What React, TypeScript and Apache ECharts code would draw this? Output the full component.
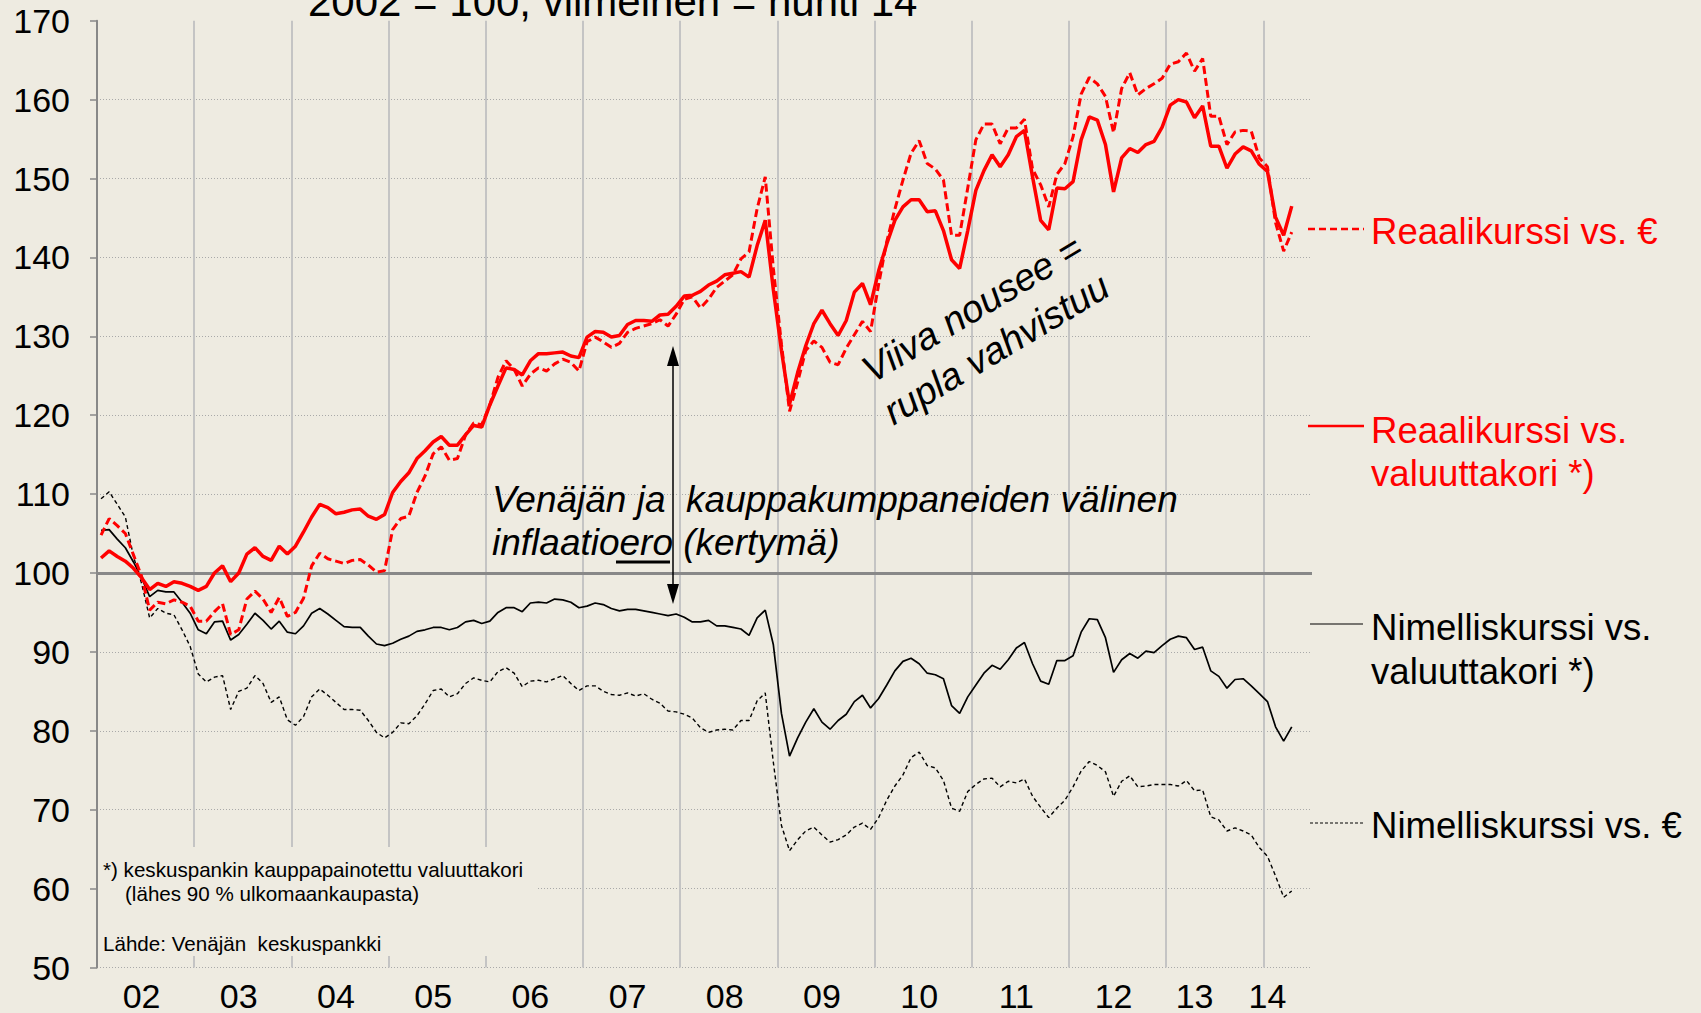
import React, { useEffect, useRef } from "react";
import * as echarts from "echarts";

// ---------- DATA ----------
const startYear = 2002;
const endYear = 2014;
const lastMonthOnAxis = 6; // axis runs to June 2014

const xTickLabels = ["02", "03", "04", "05", "06", "07", "08", "09", "10", "11", "12", "13", "14"];
const xTickMonths = [
  "2002-06", "2003-06", "2004-06", "2005-06", "2006-06", "2007-06", "2008-06",
  "2009-06", "2010-06", "2011-06", "2012-06", "2013-04", "2014-01",
];

// Reaalikurssi vs. valuuttakori (red solid)
const realBasket = [
  101.9, 102.8, 102.1, 101.5, 100.6, 99.4, 97.9, 98.7, 98.3, 98.9, 98.7, 98.3,
  97.8, 98.3, 100.0, 100.9, 98.9, 100.0, 102.4, 103.2, 102.1, 101.6, 103.4, 102.4,
  103.4, 105.2, 107.1, 108.7, 108.3, 107.5, 107.7, 108.0, 108.1, 107.2, 106.8, 107.4,
  110.2, 111.6, 112.7, 114.5, 115.5, 116.6, 117.3, 116.2, 116.2, 117.5, 118.7, 118.5,
  121.3, 123.7, 126.0, 125.8, 125.1, 126.9, 127.8, 127.8, 127.9, 128.0, 127.5, 127.3,
  129.9, 130.6, 130.5, 129.9, 130.1, 131.5, 132.0, 132.0, 131.9, 132.7, 132.8, 133.8,
  135.1, 135.2, 135.7, 136.5, 137.0, 137.8, 138.0, 138.2, 137.5, 141.5, 144.7, 135.9,
  128.2, 121.4, 125.4, 128.8, 131.6, 133.3, 131.6, 130.1, 132.0, 135.6, 136.7, 134.0,
  138.3, 141.7, 144.7, 146.4, 147.3, 147.3, 145.8, 145.9, 143.4, 139.7, 138.6, 143.4,
  148.5, 151.0, 153.0, 151.5, 153.0, 155.3, 156.1, 150.2, 144.7, 143.5, 148.8, 148.7,
  149.6, 154.9, 157.8, 157.4, 154.3, 148.3, 152.6, 153.8, 153.3, 154.3, 154.7, 156.5,
  159.3, 160.0, 159.7, 157.7, 159.2, 154.1, 154.1, 151.3, 153.1, 154.0, 153.5, 151.8,
  150.9, 145.1, 142.8, 146.5,
];

// Reaalikurssi vs. € (red dashed)
const realEur = [
  104.8, 106.9, 106.0, 105.0, 102.3, 99.6, 95.3, 96.3, 96.1, 96.6, 96.3, 95.8,
  93.9, 93.9, 95.1, 96.1, 92.2, 92.8, 96.7, 97.7, 96.7, 95.0, 96.9, 94.5,
  95.0, 96.8, 100.9, 102.5, 101.8, 101.5, 101.2, 101.6, 101.7, 101.0, 100.1, 100.3,
  105.5, 106.9, 107.2, 110.2, 112.3, 115.1, 116.0, 114.3, 114.5, 117.5, 119.0, 118.8,
  121.3, 124.8, 126.9, 125.8, 123.7, 125.2, 126.0, 125.6, 126.5, 127.1, 126.7, 125.6,
  129.3, 129.9, 129.3, 128.6, 129.1, 130.5, 131.0, 131.3, 131.6, 132.1, 131.3, 132.8,
  134.7, 135.0, 133.6, 134.7, 136.2, 137.0, 137.8, 139.8, 140.7, 146.2, 150.2, 138.6,
  129.0, 120.5, 124.2, 128.2, 129.4, 128.6, 126.7, 126.4, 128.5, 130.2, 131.9, 130.6,
  136.6, 142.0, 146.1, 149.8, 153.2, 154.8, 151.9, 151.2, 149.8, 142.8, 142.8, 148.8,
  154.9, 156.9, 156.9, 154.4, 156.4, 156.4, 157.5, 151.2, 149.2, 146.4, 150.5, 151.9,
  155.3, 160.7, 162.8, 162.0, 160.4, 155.8, 161.4, 163.4, 160.6, 161.4, 162.0, 162.7,
  164.5, 164.8, 165.9, 163.6, 165.2, 157.9, 157.9, 154.3, 155.9, 156.1, 156.0, 152.6,
  151.5, 144.4, 140.8, 143.2,
];

// Nimelliskurssi vs. valuuttakori (black solid)
const nomBasket = [
  105.4, 105.5, 104.3, 103.2, 101.4, 99.4, 97.0, 97.8, 97.6, 97.6, 96.3, 94.9,
  92.8, 92.3, 93.8, 93.9, 91.5, 92.2, 93.5, 94.9, 94.0, 92.9, 93.9, 92.5,
  92.3, 93.3, 94.9, 95.5, 94.8, 94.0, 93.2, 93.1, 93.1, 92.0, 91.0, 90.8,
  91.1, 91.6, 92.0, 92.6, 92.8, 93.1, 93.1, 92.8, 93.1, 93.8, 94.0, 93.6,
  93.9, 95.0, 95.6, 95.6, 95.1, 96.2, 96.3, 96.2, 96.7, 96.6, 96.3, 95.6,
  95.8, 96.2, 96.0, 95.5, 95.2, 95.4, 95.4, 95.2, 95.0, 94.8, 94.6, 94.8,
  94.4, 93.8, 93.8, 94.0, 93.3, 93.3, 93.1, 92.9, 92.1, 94.3, 95.3, 90.9,
  82.2, 76.8, 79.1, 81.1, 82.8, 81.1, 80.2, 81.3, 82.1, 83.7, 84.5, 82.9,
  84.1, 85.8, 87.6, 88.8, 89.2, 88.5, 87.3, 87.1, 86.6, 83.2, 82.2, 84.3,
  85.8, 87.3, 88.3, 87.8, 89.0, 90.5, 91.2, 88.5, 86.3, 85.9, 88.9, 88.9,
  89.5, 92.5, 94.2, 94.1, 91.8, 87.4, 89.0, 89.8, 89.2, 90.1, 89.9, 90.8,
  91.6, 92.0, 91.8, 90.3, 90.6, 87.6, 86.9, 85.4, 86.5, 86.6, 85.7, 84.7,
  83.7, 80.5, 78.7, 80.5,
];

// Nimelliskurssi vs. € (black dashed)
const nomEur = [
  109.4, 110.3, 108.7, 107.1, 102.1, 98.7, 94.3, 95.5, 94.9, 94.7, 92.8, 90.7,
  87.2, 86.2, 86.8, 87.0, 82.7, 85.0, 85.4, 87.0, 86.0, 83.6, 84.3, 81.4,
  80.7, 81.8, 84.3, 85.3, 84.5, 83.6, 82.7, 82.7, 82.6, 81.3, 79.8, 79.1,
  79.8, 81.0, 80.9, 81.9, 83.4, 85.1, 85.3, 84.3, 84.7, 86.0, 86.7, 86.4,
  86.2, 87.5, 88.0, 87.3, 85.6, 86.3, 86.4, 86.2, 86.6, 87.0, 86.0, 85.1,
  85.7, 85.7, 85.0, 84.6, 84.5, 84.8, 84.4, 84.7, 84.0, 83.5, 82.5, 82.4,
  82.1, 81.6, 80.4, 79.8, 80.1, 80.2, 80.1, 81.3, 81.3, 83.8, 84.8, 76.0,
  68.0, 64.8, 66.2, 67.3, 67.8, 66.8, 65.9, 66.2, 66.8, 67.8, 68.3, 67.5,
  69.0, 71.2, 73.0, 74.4, 76.6, 77.3, 75.6, 75.3, 73.7, 70.2, 69.8, 72.3,
  73.2, 73.9, 74.0, 72.9, 73.6, 73.4, 73.9, 71.7, 70.3, 69.0, 70.2, 71.2,
  72.9, 74.9, 76.1, 75.6, 74.8, 71.7, 73.6, 74.3, 72.9, 73.0, 73.2, 73.2,
  73.2, 73.0, 73.7, 72.4, 72.5, 69.1, 68.7, 67.3, 67.7, 67.3, 66.8, 65.2,
  64.1, 61.6, 58.9, 59.7,
];

const yMin = 50;
const yMax = 170;
const yStep = 10;
const baseLevel = 100;

// ---------- helpers ----------
const months: string[] = [];
for (let y = startYear; y <= endYear; y++) {
  for (let m = 1; m <= 12; m++) {
    if (y === endYear && m > lastMonthOnAxis) break;
    months.push(`${y}-${String(m).padStart(2, "0")}`);
  }
}
const tickMap: Record<string, string> = {};
xTickMonths.forEach((mo, i) => (tickMap[mo] = xTickLabels[i]));

const BG = "#eeebe1";
const FONT = '"Liberation Sans", Arial, Helvetica, sans-serif';
const RED = "#ff0000";

function txt(x: number, y: number, text: string, size: number, color = "#000", italic = false, align = "left", extra: any = {}) {
  const font = `${italic ? "italic " : ""}${size}px ${FONT}`;
  return {
    type: "text",
    x,
    y,
    z: 20,
    silent: true,
    style: {
      text,
      font,
      fill: color,
      align,
      verticalAlign: "middle",
      textAlign: align,
      textVerticalAlign: "middle",
    },
    ...extra,
  };
}

export default function App() {
  const ref = useRef<HTMLDivElement>(null);

  useEffect(() => {
    if (!ref.current) return;
    const chart = echarts.init(ref.current, null, { renderer: "svg" });

    const nLines = (yMax - yMin) / yStep + 1;
    const splitColors = Array.from({ length: nLines }, (_, i) => (i === nLines - 1 ? "rgba(0,0,0,0)" : "#a9a9a9"));

    const rot = (31 * Math.PI) / 180;
    const nCats = months.length;

    const option: any = {
      animation: false,
      backgroundColor: BG,
      grid: { left: 97, right: 389, top: 20.7, bottom: 45.5, containLabel: false },
      xAxis: {
        type: "category",
        data: months,
        boundaryGap: true,
        axisLine: { show: false },
        axisTick: { show: false },
        axisLabel: {
          interval: 0,
          margin: 11,
          fontSize: 34,
          fontFamily: FONT,
          color: "#000",
          formatter: (v: string) => tickMap[v] || "",
        },
        splitLine: {
          show: true,
          showMaxLine: false,
          interval: (index: number) => index % 12 === 0 && index > 0 && index < nCats - 1,
          lineStyle: { color: "#c4c4c4", width: 2 },
        },
      },
      yAxis: {
        type: "value",
        min: yMin,
        max: yMax,
        interval: yStep,
        axisLine: { show: true, lineStyle: { color: "#888888", width: 2 } },
        axisTick: { show: true, inside: false, length: 7, lineStyle: { color: "#888888", width: 1.5 } },
        axisLabel: { margin: 27, fontSize: 34, fontFamily: FONT, color: "#000" },
        splitLine: { show: true, lineStyle: { color: splitColors, width: 1, type: [1, 2] } },
      },
      series: [
        {
          name: "Nimelliskurssi vs. €",
          type: "line",
          data: nomEur,
          symbol: "none",
          lineStyle: { color: "#000", width: 1.4, type: [4, 3] },
          z: 3,
        },
        {
          name: "Nimelliskurssi vs. valuuttakori *)",
          type: "line",
          data: nomBasket,
          symbol: "none",
          lineStyle: { color: "#000", width: 1.7 },
          z: 4,
          markLine: {
            silent: true,
            symbol: "none",
            label: { show: false },
            lineStyle: { color: "#888888", width: 3, type: "solid" },
            data: [{ yAxis: baseLevel }],
          },
        },
        {
          name: "Reaalikurssi vs. valuuttakori *)",
          type: "line",
          data: realBasket,
          symbol: "none",
          lineStyle: { color: RED, width: 3.5 },
          z: 5,
        },
        {
          name: "Reaalikurssi vs. €",
          type: "line",
          data: realEur,
          symbol: "none",
          lineStyle: { color: RED, width: 3, type: [8, 4] },
          z: 6,
        },
      ],
      graphic: [
        // title (partly cut off at the top, as in the source)
        txt(308, 1.5, "2002 = 100, viimeinen = huhti 14", 42),
        // footnote box
        {
          type: "rect",
          z: 15,
          silent: true,
          shape: { x: 99, y: 847, width: 439, height: 109 },
          style: { fill: BG },
        },
        txt(103, 869, "*) keskuspankin kauppapainotettu valuuttakori", 20.6),
        txt(125, 893, "(lähes 90 % ulkomaankaupasta)", 20.6),
        txt(103, 943, "Lähde: Venäjän  keskuspankki", 20.6),
        // inflation gap annotation
        txt(492, 499, "Venäjän ja  kauppakumppaneiden välinen", 37, "#000", true),
        txt(492, 542, "inflaatioero (kertymä)", 37, "#000", true),
        {
          type: "line",
          z: 20,
          silent: true,
          shape: { x1: 616, y1: 562, x2: 670, y2: 562 },
          style: { stroke: "#000", lineWidth: 3 },
        },
        {
          type: "line",
          z: 20,
          silent: true,
          shape: { x1: 673, y1: 362, x2: 673, y2: 590 },
          style: { stroke: "#000", lineWidth: 1.5 },
        },
        {
          type: "polygon",
          z: 20,
          silent: true,
          shape: { points: [[673, 346], [667, 366], [679, 366]] },
          style: { fill: "#000" },
        },
        {
          type: "polygon",
          z: 20,
          silent: true,
          shape: { points: [[673, 604], [667, 584], [679, 584]] },
          style: { fill: "#000" },
        },
        // rotated annotation
        {
          type: "group",
          x: 979,
          y: 320,
          rotation: rot,
          z: 20,
          children: [
            txt(0, -13.3, "Viiva nousee =", 38, "#000", true, "center"),
            txt(0, 33.5, "rupla vahvistuu", 38, "#000", true, "center"),
          ],
        },
        // right-hand legend
        {
          type: "line",
          z: 20,
          silent: true,
          shape: { x1: 1308, y1: 229, x2: 1364, y2: 229 },
          style: { stroke: RED, lineWidth: 2.5, lineDash: [7, 4] },
        },
        txt(1371, 231, "Reaalikurssi vs. €", 36.6, RED),
        {
          type: "line",
          z: 20,
          silent: true,
          shape: { x1: 1308, y1: 426, x2: 1364, y2: 426 },
          style: { stroke: RED, lineWidth: 2.5 },
        },
        txt(1371, 430, "Reaalikurssi vs.", 36.6, RED),
        txt(1371, 473, "valuuttakori *)", 36.6, RED),
        {
          type: "line",
          z: 20,
          silent: true,
          shape: { x1: 1310, y1: 624, x2: 1363, y2: 624 },
          style: { stroke: "#000", lineWidth: 1.2 },
        },
        txt(1371, 627, "Nimelliskurssi vs.", 36.6),
        txt(1371, 671, "valuuttakori *)", 36.6),
        {
          type: "line",
          z: 20,
          silent: true,
          shape: { x1: 1310, y1: 823, x2: 1363, y2: 823 },
          style: { stroke: "#000", lineWidth: 1, lineDash: [3, 2] },
        },
        txt(1371, 825, "Nimelliskurssi vs. €", 36.6),
      ],
    };

    chart.setOption(option);
    return () => chart.dispose();
  }, []);

  return (
    <div
      ref={ref}
      style={{ position: "absolute", left: 0, top: 0, width: 1701, height: 1013, background: BG }}
    />
  );
}
